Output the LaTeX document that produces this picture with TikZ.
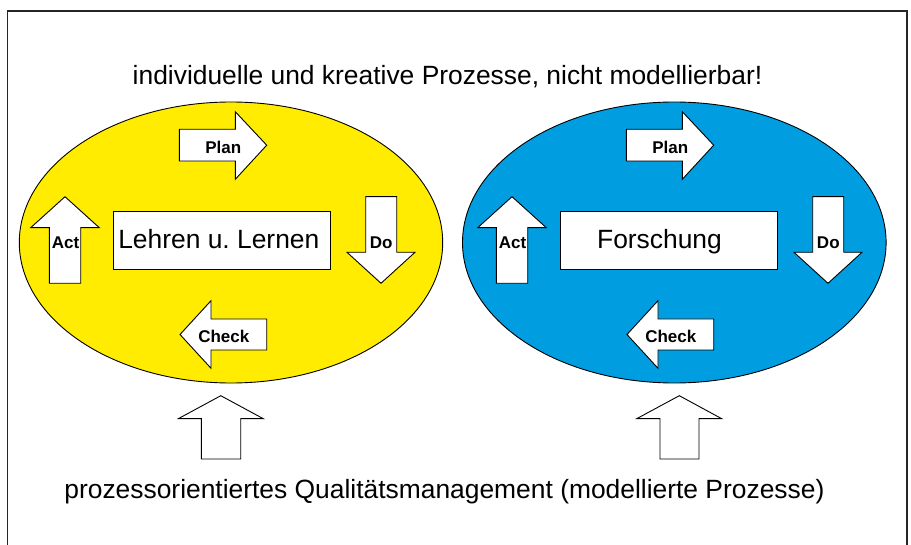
\documentclass[tikz,border=0pt]{standalone}
\usepackage{fontspec}
\setmainfont{Liberation Sans}
\definecolor{pdcayellow}{RGB}{255,236,0}
\definecolor{pdcablue}{RGB}{0,158,224}
\tikzset{
  blockarrow/.style={draw=black, fill=white, line width=0.9pt, line join=miter},
  bigtext/.style={font=\fontsize{26.4}{30}\selectfont, inner sep=0pt, anchor=base},
  smalltext/.style={font=\fontsize{17}{20}\selectfont\bfseries, inner sep=0pt, anchor=base},
  pics/pdca/.style={code={
    \draw[blockarrow] (179.3,129.3) -- (235.3,129.3) -- (235.3,111.7) -- (266.7,145.2) -- (235.3,179.3) -- (235.3,161) -- (179.3,161) -- cycle;
    \draw[blockarrow] (49.3,283.3) -- (49.3,227.7) -- (30.7,227.7) -- (65,196.7) -- (99.3,227.7) -- (80.7,227.7) -- (80.7,283.3) -- cycle;
    \draw[blockarrow] (365.7,196.7) -- (396.7,196.7) -- (396.7,252.3) -- (415,252.3) -- (381,283.3) -- (347,252.3) -- (365.7,252.3) -- cycle;
    \draw[blockarrow] (266.7,319) -- (266.7,350) -- (211,350) -- (211,368.3) -- (180,334.5) -- (211,300.7) -- (211,319) -- cycle;
    \draw[blockarrow] (113.3,211.7) rectangle (330.5,269);
    \node[smalltext] (-plan) at (223.3,154) {Plan};
    \node[smalltext] (-act) at (65.5,248.3) {Act};
    \node[smalltext] (-do) at (381.3,248.3) {Do};
    \node[smalltext] (-check) at (223.8,342.7) {Check};
  }}
}
\begin{document}
\begin{tikzpicture}[x=1pt,y=-1pt]
\useasboundingbox (0,0) rectangle (911,545);
\fill[white] (0,0) rectangle (911,545);
% outer frame (open at the bottom)
\draw[line width=1.4pt, black!85] (7.5,545) -- (7.5,11) -- (907,11) -- (907,545);
% ellipses
\draw[fill=pdcayellow, line width=0.9pt] (231,242.5) ellipse [x radius=211.7pt, y radius=140.5pt];
\draw[fill=pdcablue, line width=0.9pt] (674.3,242.5) ellipse [x radius=211.8pt, y radius=140.5pt];
% cycles
\pic (lehre) at (0,0) {pdca};
\pic (forschung) at (447,0) {pdca};
\node[bigtext] (lehretext) at (218.8,248.3) {Lehren u.\ Lernen};
\node[bigtext] (forschungtext) at (659.5,248.3) {Forschung};
% title and bottom text
\node[bigtext] (title) at (447.5,84.3) {individuelle und kreative Prozesse, nicht modellierbar!};
\node[bigtext] (qm) at (444.4,498.3) {prozessorientiertes Qualitätsmanagement (modellierte Prozesse)};
% upward arrows from QM to the processes
\draw[blockarrow] (201.3,459) -- (201.3,418.7) -- (178.3,418.7) -- (220.8,395.7) -- (263.3,418.7) -- (240.7,418.7) -- (240.7,459) -- cycle;
\draw[blockarrow] (660,459) -- (660,418.7) -- (636.7,418.7) -- (679.3,395.7) -- (721.7,418.7) -- (699,418.7) -- (699,459) -- cycle;
\end{tikzpicture}
\end{document}
